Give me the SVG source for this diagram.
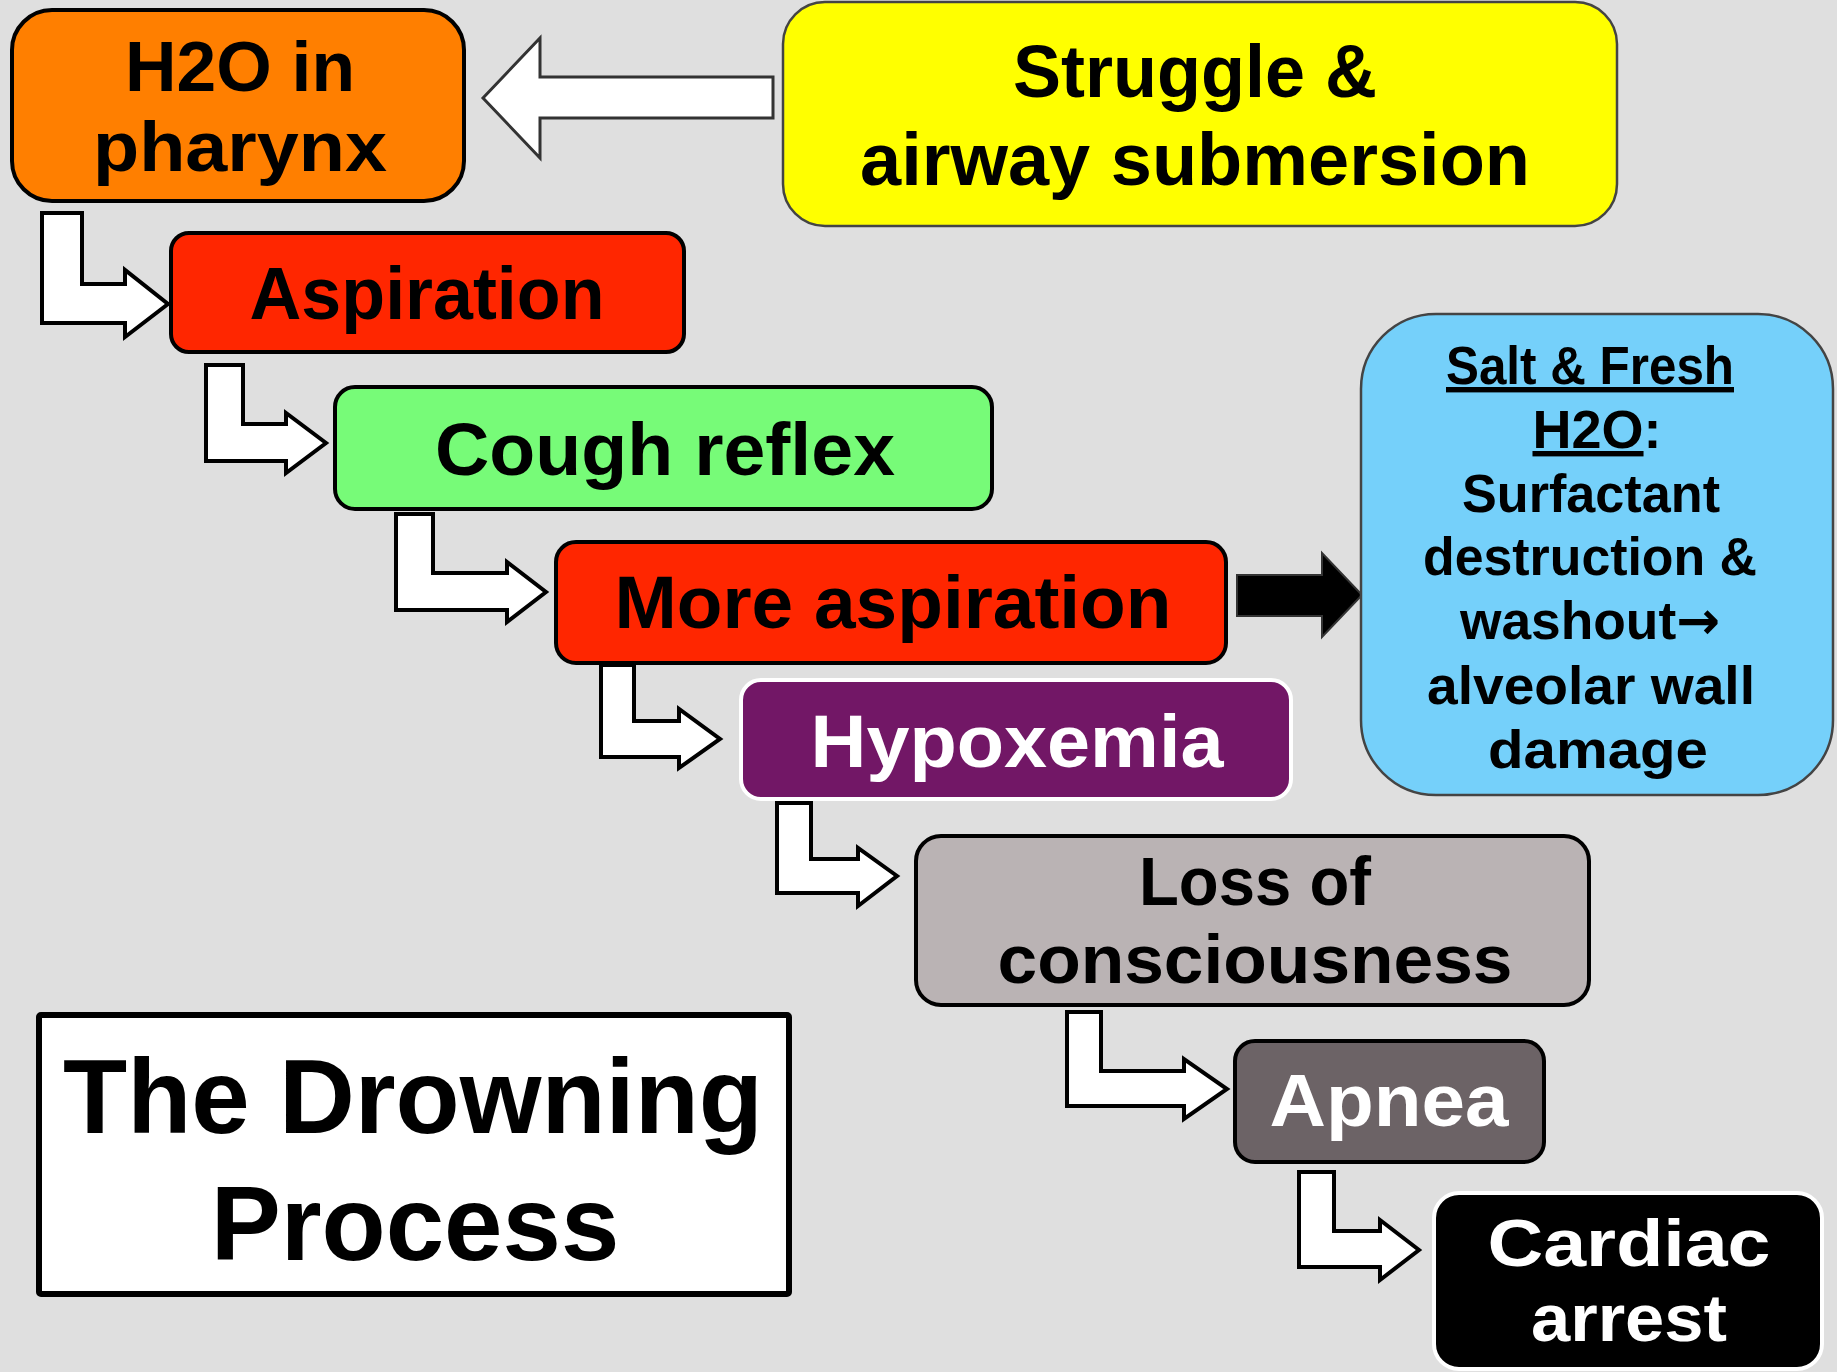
<svg xmlns="http://www.w3.org/2000/svg" width="1837" height="1372" viewBox="0 0 1837 1372">
<style>
.t{font-family:"Liberation Sans",Arial,sans-serif;font-weight:700;text-anchor:middle;fill:#000}
.w{fill:#fff}
.m{font-size:74px}
.s{font-size:54px}
.ar{font-family:"DejaVu Sans",sans-serif;font-weight:700;font-size:53px}
.title{font-family:"Liberation Sans",Arial,sans-serif;font-weight:700;font-size:105px;text-anchor:middle;fill:#000}
.bk{stroke:#000;stroke-width:4}
.la{fill:#fff;stroke:#000;stroke-width:4;stroke-linejoin:miter}
.u{text-decoration:underline}
</style>
<rect x="0" y="0" width="1837" height="1372" fill="#dfdfdf"/>
<g id="connectors">
  <polygon class="la" style="stroke:#333;stroke-width:3" points="483,98 540,38 540,77 773,77 773,118 540,118 540,158"/>
  <polygon fill="#000" stroke="#333" stroke-width="2" points="1237,575 1322,575 1322,553 1362,595 1322,637 1322,616 1237,616"/>
  <polygon class="la" points="42,213 82,213 82,284 125,284 125,270 168,304 125,337 125,323 42,323"/>
  <polygon class="la" points="206,365 243,365 243,424 286,424 286,413 326,443 286,473 286,461 206,461"/>
  <polygon class="la" points="396,514 433,514 433,573 507,573 507,562 546,592 507,622 507,610 396,610"/>
  <polygon class="la" points="601,665 634,665 634,721 679,721 679,709 720,739 679,768 679,757 601,757"/>
  <polygon class="la" points="777,803 811,803 811,859 858,859 858,848 897,876 858,906 858,893 777,893"/>
  <polygon class="la" points="1067,1012 1101,1012 1101,1071 1184,1071 1184,1059 1227,1089 1184,1119 1184,1106 1067,1106"/>
  <polygon class="la" points="1299,1172 1334,1172 1334,1231 1380,1231 1380,1220 1419,1250 1380,1280 1380,1267 1299,1267"/>
</g>
<g id="n-h2o">
  <rect class="bk" x="12" y="10" width="452" height="191" rx="40" fill="#ff7f00"/>
  <text class="t" style="font-size:71px"><tspan x="240" y="91" textLength="230" lengthAdjust="spacingAndGlyphs">H2O in</tspan><tspan x="240" y="171" textLength="294" lengthAdjust="spacingAndGlyphs">pharynx</tspan></text>
</g>
<g id="n-struggle">
  <rect x="783" y="2" width="834" height="224" rx="42" fill="#ffff00" stroke="#444" stroke-width="2.5"/>
  <text class="t" style="font-size:75px"><tspan x="1195" y="97" textLength="364" lengthAdjust="spacingAndGlyphs">Struggle &amp;</tspan><tspan x="1195" y="185" textLength="670" lengthAdjust="spacingAndGlyphs">airway submersion</tspan></text>
</g>
<g id="n-aspiration">
  <rect class="bk" x="171" y="233" width="513" height="119" rx="18" fill="#ff2600"/>
  <text class="t m" x="427" y="319" textLength="355" lengthAdjust="spacingAndGlyphs">Aspiration</text>
</g>
<g id="n-cough">
  <rect class="bk" x="335" y="387" width="657" height="122" rx="20" fill="#77fb78"/>
  <text class="t m" x="665" y="475" textLength="460" lengthAdjust="spacingAndGlyphs">Cough reflex</text>
</g>
<g id="n-more">
  <rect class="bk" x="556" y="542" width="670" height="121" rx="20" fill="#ff2600"/>
  <text class="t m" x="893" y="628" textLength="557" lengthAdjust="spacingAndGlyphs">More aspiration</text>
</g>
<g id="n-hypoxemia">
  <rect x="741" y="680" width="550" height="119" rx="20" fill="#721766" stroke="#fff" stroke-width="4"/>
  <text class="t m w" x="1017" y="767" textLength="413" lengthAdjust="spacingAndGlyphs">Hypoxemia</text>
</g>
<g id="n-salt">
  <rect x="1361" y="314" width="472" height="481" rx="75" fill="#75d0fa" stroke="#444" stroke-width="2.5"/>
  <text class="t s"><tspan class="u" x="1590" y="384" textLength="288" lengthAdjust="spacingAndGlyphs">Salt &amp; Fresh</tspan><tspan x="1597" y="448"><tspan class="u">H2O</tspan>:</tspan><tspan x="1591" y="512" textLength="258" lengthAdjust="spacingAndGlyphs">Surfactant</tspan><tspan x="1590" y="575" textLength="334" lengthAdjust="spacingAndGlyphs">destruction &amp;</tspan><tspan x="1590" y="639" textLength="260" lengthAdjust="spacingAndGlyphs">washout<tspan class="ar">→</tspan></tspan><tspan x="1591" y="704" textLength="328" lengthAdjust="spacingAndGlyphs">alveolar wall</tspan><tspan x="1598" y="768" textLength="220" lengthAdjust="spacingAndGlyphs">damage</tspan></text>
</g>
<g id="n-loss">
  <rect class="bk" x="916" y="836" width="673" height="169" rx="25" fill="#bab3b4"/>
  <text class="t" style="font-size:69px"><tspan x="1255" y="905" textLength="232" lengthAdjust="spacingAndGlyphs">Loss of</tspan><tspan x="1255" y="983" textLength="515" lengthAdjust="spacingAndGlyphs">consciousness</tspan></text>
</g>
<g id="n-apnea">
  <rect class="bk" x="1235" y="1041" width="309" height="121" rx="20" fill="#6c6366"/>
  <text class="t m w" x="1389" y="1126" textLength="239" lengthAdjust="spacingAndGlyphs">Apnea</text>
</g>
<g id="n-cardiac">
  <rect x="1434" y="1193" width="388" height="176" rx="25" fill="#000" stroke="#fff" stroke-width="4"/>
  <text class="t w" style="font-size:66px"><tspan x="1629" y="1266" textLength="283" lengthAdjust="spacingAndGlyphs">Cardiac</tspan><tspan x="1629" y="1341" textLength="196" lengthAdjust="spacingAndGlyphs">arrest</tspan></text>
</g>
<g id="n-title">
  <rect x="39" y="1015" width="750" height="279" rx="2" fill="#fff" stroke="#000" stroke-width="6"/>
  <text class="title"><tspan x="413" y="1133">The Drowning</tspan><tspan x="415" y="1260">Process</tspan></text>
</g>
</svg>
